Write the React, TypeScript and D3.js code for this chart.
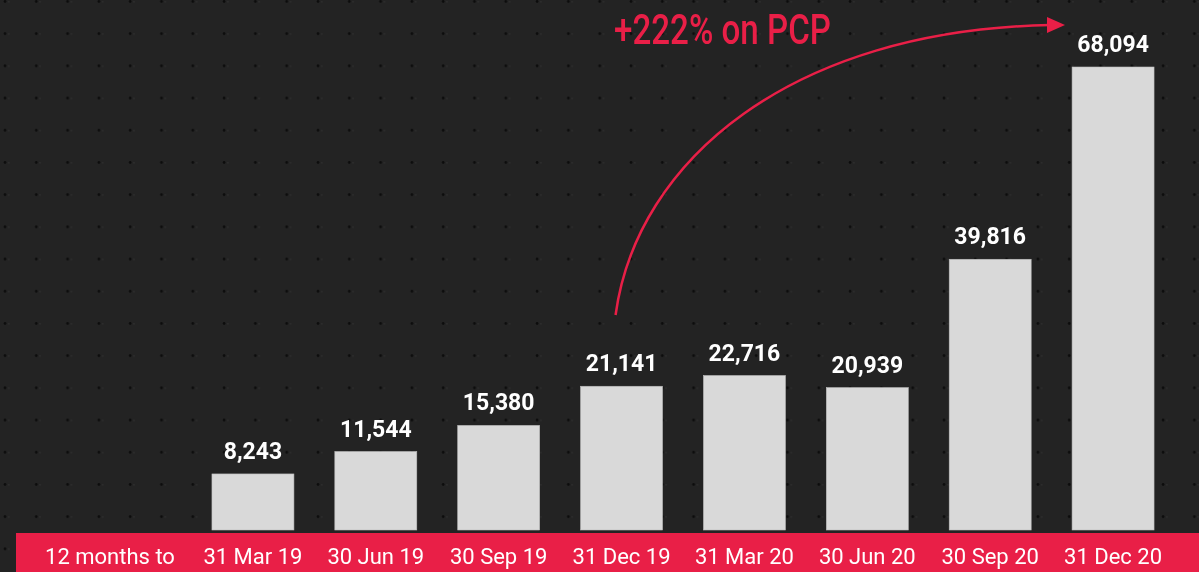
import { useEffect, useRef } from 'react'
import * as d3 from 'd3'

const periods = ['31 Mar 19', '30 Jun 19', '30 Sep 19', '31 Dec 19', '31 Mar 20', '30 Jun 20', '30 Sep 20', '31 Dec 20']
const values = [8243, 11544, 15380, 21141, 22716, 20939, 39816, 68094]
const axisTitle = '12 months to'
const growthLabel = '+222% on PCP'

const W = 1199
const H = 572
const RED = '#e91f47'

export default function App() {
  const svgRef = useRef<SVGSVGElement>(null)

  useEffect(() => {
    if (!svgRef.current) return
    const svg = d3.select(svgRef.current)
    svg.selectAll('*').remove()

    // dotted dark background
    const defs = svg.append('defs')
    const pat = defs.append('pattern')
      .attr('id', 'dots')
      .attr('patternUnits', 'userSpaceOnUse')
      .attr('width', 31.3)
      .attr('height', 32.2)
    pat.append('rect').attr('width', 31.3).attr('height', 32.2).attr('fill', '#232323')
    pat.append('circle').attr('cx', 5).attr('cy', 1.5).attr('r', 1.4).attr('fill', '#0c0c0c')
    pat.append('rect').attr('x', 8).attr('y', 1).attr('width', 1.5).attr('height', 1.5).attr('fill', '#2e2e2e')

    svg.append('rect').attr('width', W).attr('height', H).attr('fill', 'url(#dots)')

    const x = d3.scaleBand<string>()
      .domain(periods)
      .range([191.5, 1174.5])
      .paddingInner(0.333)
      .paddingOuter(0.1665)

    const y = d3.scaleLinear()
      .domain([0, 68094])
      .range([530, 67])

    // bars
    svg.selectAll('rect.bar')
      .data(values)
      .join('rect')
      .attr('class', 'bar')
      .attr('x', (_, i) => x(periods[i]) || 0)
      .attr('y', d => y(d))
      .attr('width', x.bandwidth())
      .attr('height', d => y(0) - y(d))
      .attr('fill', '#d9d9d9')
      .attr('stroke', '#bdbdbd')
      .attr('stroke-width', 0.6)

    // value labels
    svg.selectAll('text.val')
      .data(values)
      .join('text')
      .attr('class', 'val')
      .attr('x', (_, i) => (x(periods[i]) || 0) + x.bandwidth() / 2)
      .attr('y', d => y(d) - 15)
      .attr('text-anchor', 'middle')
      .attr('fill', '#ffffff')
      .style('font-family', 'Roboto, sans-serif')
      .style('font-weight', 700)
      .style('font-size', '23px')
      .text(d => d3.format(',')(d))

    // red category band
    svg.append('rect')
      .attr('x', 16)
      .attr('y', 533)
      .attr('width', W - 16)
      .attr('height', H - 533)
      .attr('fill', RED)

    svg.append('text')
      .attr('x', 110)
      .attr('y', 564)
      .attr('text-anchor', 'middle')
      .attr('fill', '#ffffff')
      .style('font-family', 'Roboto, sans-serif')
      .style('font-size', '22px')
      .text(axisTitle)

    svg.selectAll('text.cat')
      .data(periods)
      .join('text')
      .attr('class', 'cat')
      .attr('x', d => (x(d) || 0) + x.bandwidth() / 2)
      .attr('y', 564)
      .attr('text-anchor', 'middle')
      .attr('fill', '#ffffff')
      .style('font-family', 'Roboto, sans-serif')
      .style('font-size', '22px')
      .text(d => d)

    // growth arrow
    const x0 = (x(periods[3]) || 0) + x.bandwidth() / 2
    const path = d3.path()
    path.moveTo(x0 - 6, 315)
    path.bezierCurveTo(x0 + 15, 160, x0 + 170, 30, 1050, 25)
    svg.append('path')
      .attr('d', path.toString())
      .attr('fill', 'none')
      .attr('stroke', RED)
      .attr('stroke-width', 2.5)

    svg.append('path')
      .attr('d', d3.line()([[1047, 17], [1065, 25], [1047, 33]]) + 'Z')
      .attr('fill', RED)

    svg.append('text')
      .attr('x', 614)
      .attr('y', 44)
      .attr('fill', RED)
      .attr('textLength', 217)
      .attr('lengthAdjust', 'spacingAndGlyphs')
      .style('font-family', 'Roboto, sans-serif')
      .style('font-weight', 500)
      .style('font-size', '43px')
      .text(growthLabel)
  }, [])

  return (
    <svg
      ref={svgRef}
      width={W}
      height={H}
      style={{ position: 'fixed', left: 0, top: 0, display: 'block' }}
    />
  )
}
